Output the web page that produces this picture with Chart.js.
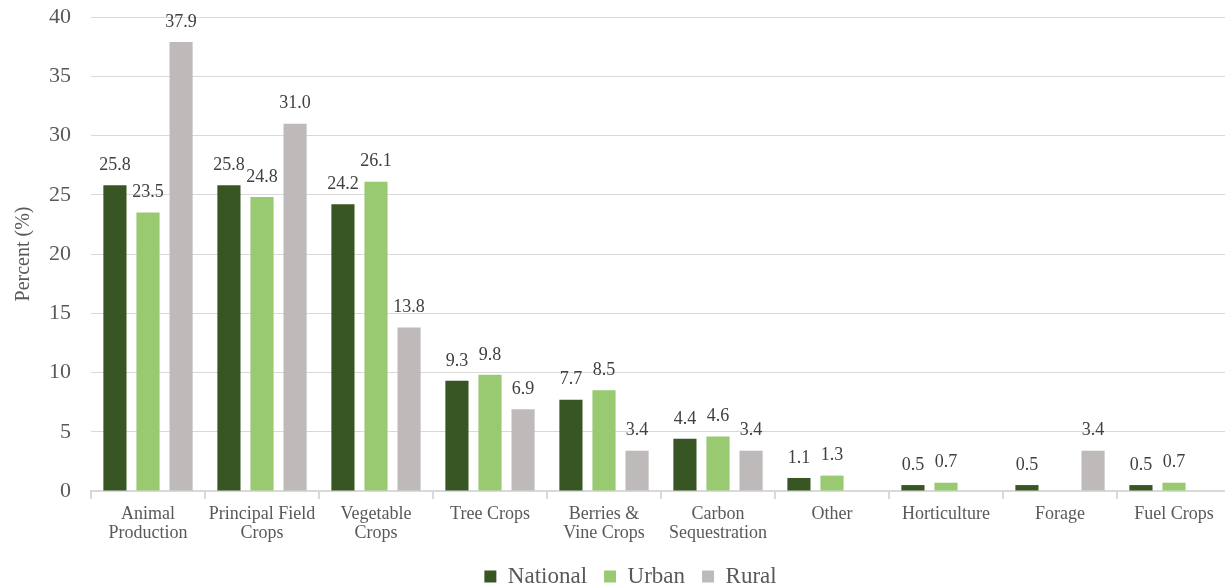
<!DOCTYPE html>
<html>
<head>
<meta charset="utf-8">
<script src="https://cdn.jsdelivr.net/npm/chart.js@4/dist/chart.umd.min.js"></script>
<style>
  html, body { margin: 0; padding: 0; background: #ffffff; overflow: hidden; }
  #wrap { width: 1260px; height: 588px; position: relative; }
</style>
</head>
<body>
<div id="wrap"><canvas id="c"></canvas></div>
<script>
// Share of operations by primary production type
const categories = [
  ["Animal", "Production"],
  ["Principal Field", "Crops"],
  ["Vegetable", "Crops"],
  "Tree Crops",
  ["Berries &", "Vine Crops"],
  ["Carbon", "Sequestration"],
  "Other",
  "Horticulture",
  "Forage",
  "Fuel Crops"
];
const nationalValues = [25.8, 25.8, 24.2, 9.3, 7.7, 4.4, 1.1, 0.5, 0.5, 0.5];
const urbanValues    = [23.5, 24.8, 26.1, 9.8, 8.5, 4.6, 1.3, 0.7, null, 0.7];
const ruralValues    = [37.9, 31.0, 13.8, 6.9, 3.4, 3.4, null, null, 3.4, null];
const yTicks = [0, 5, 10, 15, 20, 25, 30, 35, 40];

const SERIF = '"Liberation Serif", "Times New Roman", serif';
const AXIS_TEXT = '#595959';
const GRID = '#d9d9d9';

// Writes each bar's value just above it
const valueLabels = {
  id: 'valueLabels',
  afterDatasetsDraw(chart) {
    const ctx = chart.ctx;
    ctx.save();
    ctx.font = '18px ' + SERIF;
    ctx.fillStyle = '#404040';
    ctx.textAlign = 'center';
    ctx.textBaseline = 'middle';
    chart.data.datasets.forEach((ds, i) => {
      const meta = chart.getDatasetMeta(i);
      meta.data.forEach((bar, j) => {
        const v = ds.data[j];
        if (v === null || v === undefined) return;
        ctx.fillText(v.toFixed(1), bar.x, bar.y - 20);
      });
    });
    ctx.restore();
  }
};

// Centres the legend on the full canvas width instead of the padded area
const legendCentre = {
  id: 'legendCentre',
  afterLayout(chart) {
    const lg = chart.legend;
    if (!lg) return;
    const shift = 15;
    lg.left += shift;
    lg.right += shift;
  }
};

new Chart(document.getElementById('c'), {
  type: 'bar',
  data: {
    labels: categories,
    datasets: [
      { label: 'National', data: nationalValues, backgroundColor: '#375623' },
      { label: 'Urban', data: urbanValues, backgroundColor: '#99CA72' },
      { label: 'Rural', data: ruralValues, backgroundColor: '#BEBABA' }
    ]
  },
  options: {
    responsive: true,
    maintainAspectRatio: false,
    animation: false,
    layout: { padding: { top: 17, right: 29, left: 0, bottom: -10 } },
    datasets: {
      bar: { categoryPercentage: 0.87, barPercentage: 0.70 }
    },
    scales: {
      x: {
        offset: true,
        grid: {
          offset: true,
          display: true,
          drawOnChartArea: false,
          drawTicks: true,
          tickLength: 8,
          color: GRID,
          lineWidth: 2
        },
        border: { display: true, color: GRID, width: 2 },
        ticks: {
          color: AXIS_TEXT,
          font: { family: SERIF, size: 18, lineHeight: 1.1 },
          padding: 5,
          maxRotation: 0,
          autoSkip: false
        },
        afterFit(scale) { scale.height = 57; }
      },
      y: {
        min: 0,
        max: 40,
        afterBuildTicks(scale) { scale.ticks = yTicks.map(v => ({ value: v })); },
        grid: {
          color: GRID,
          lineWidth: 1,
          drawTicks: true,
          tickLength: 19,
          tickColor: 'rgba(0,0,0,0)'
        },
        border: { display: false },
        ticks: {
          color: AXIS_TEXT,
          font: { family: SERIF, size: 22 },
          padding: 1
        },
        title: {
          display: true,
          text: 'Percent (%)',
          color: AXIS_TEXT,
          font: { family: SERIF, size: 20 },
          padding: { top: 12, bottom: 0 }
        },
        afterFit(scale) { scale.width = 91; }
      }
    },
    plugins: {
      legend: {
        position: 'bottom',
        labels: {
          color: AXIS_TEXT,
          font: { family: SERIF, size: 23 },
          boxWidth: 12,
          boxHeight: 12,
          padding: 17
        }
      },
      tooltip: { enabled: false }
    }
  },
  plugins: [valueLabels, legendCentre]
});
</script>
</body>
</html>
